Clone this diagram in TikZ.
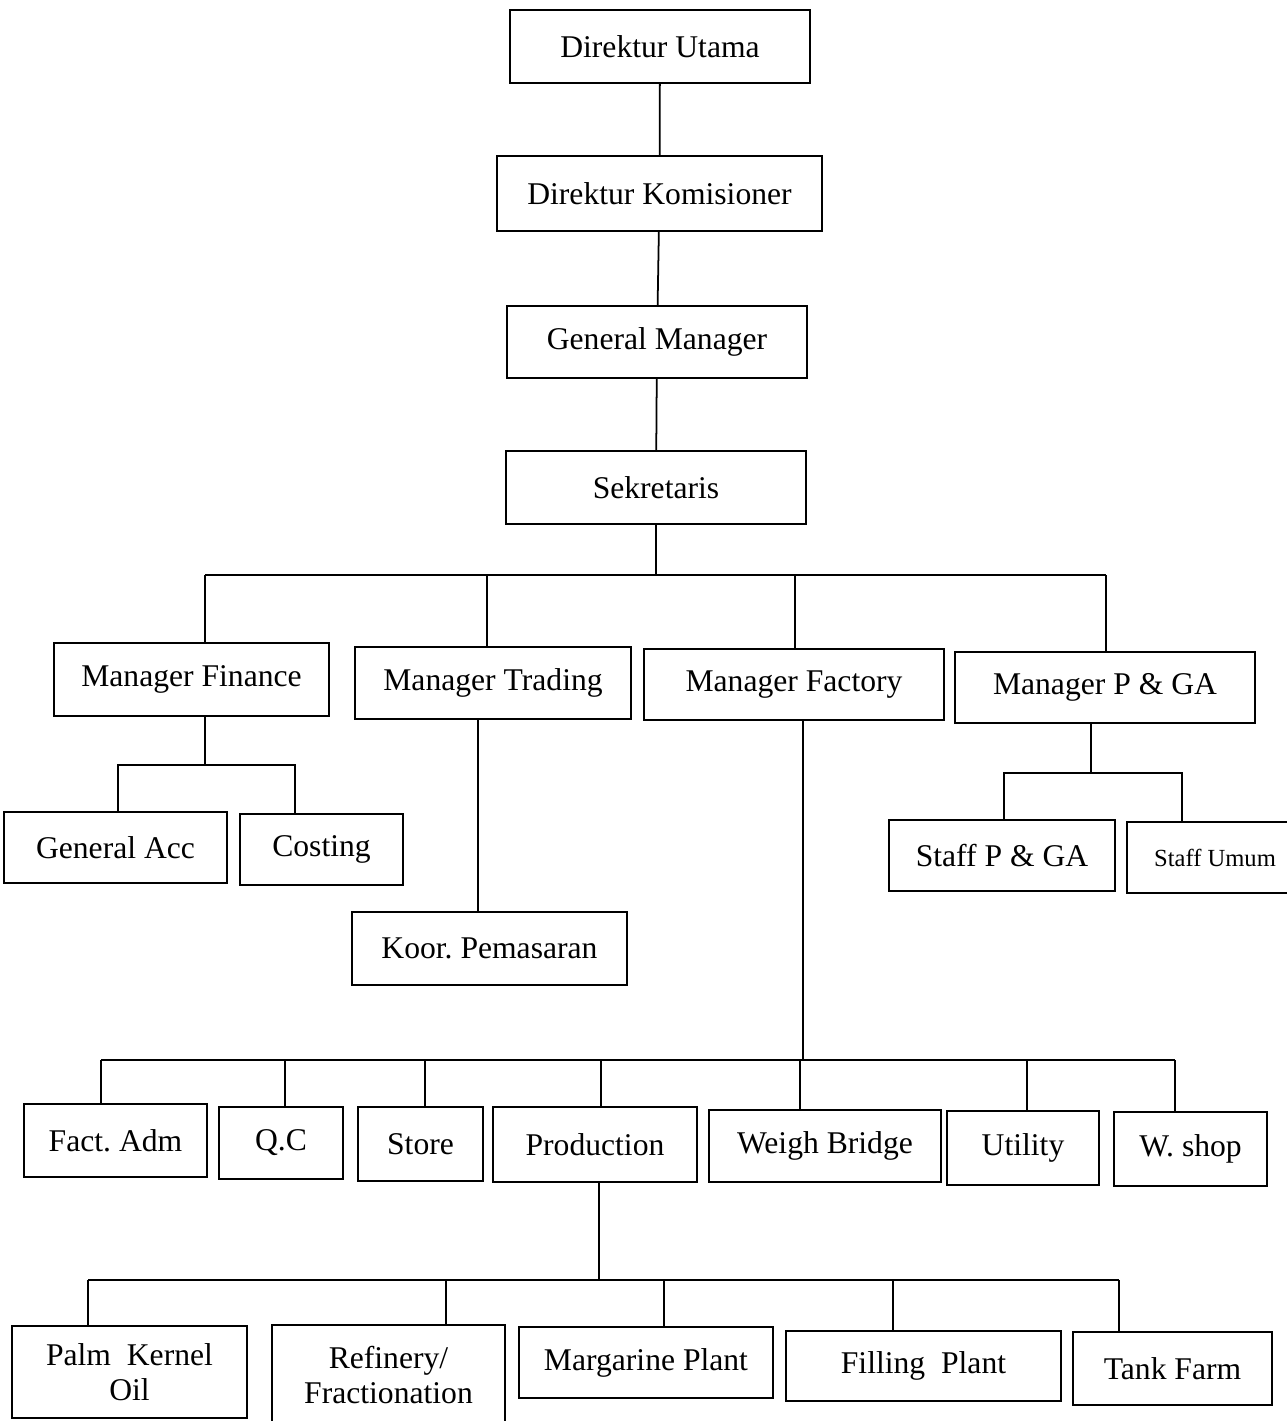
\documentclass[tikz,border=0pt]{standalone}
\usepackage{fontspec}
\setmainfont{Liberation Serif}
\frenchspacing

\begin{document}
\begin{tikzpicture}[x=0.02cm,y=-0.02cm,line width=1pt,
 blk/.style={draw,inner sep=0pt,minimum height=1.45cm,align=center,font=\fontsize{18}{20}\selectfont},
 sml/.style={blk,font=\fontsize{14}{17}\selectfont}]
\useasboundingbox (0,0) rectangle (1286,1421);
\fill[white] (0,0) rectangle (1286,1421);
% top of the chart
\node[blk,minimum width=6cm] (du) at (660,46.5) {Direktur Utama};
\node[blk,minimum width=6.5cm,minimum height=1.5cm] (dk) at (659.5,193.5) {Direktur Komisioner};
\node[blk,minimum width=6cm] (gm) at (657,342) {General Manager};
\node[blk,minimum width=6cm] (sk) at (656,487.5) {Sekretaris};
% managers
\node[blk,minimum width=5.5cm] (mfin) at (191.5,679.5) {Manager Finance};
\node[blk,minimum width=5.52cm] (mtrd) at (493,683) {Manager Trading};
\node[blk,minimum width=6cm,minimum height=1.42cm] (mfac) at (794,684.5) {Manager Factory};
\node[blk,minimum width=6cm,minimum height=1.42cm] (mpga) at (1105,687.5) {Manager P \& GA};
% staff
\node[blk,minimum width=4.46cm,minimum height=1.42cm] (gacc) at (115.5,847.5) {General Acc};
\node[blk,minimum width=3.26cm,minimum height=1.42cm] (cost) at (321.5,849.5) {Costing};
\node[blk,minimum width=5.5cm] (koor) at (489.5,948.5) {Koor. Pemasaran};
\node[blk,minimum width=4.52cm,minimum height=1.42cm] (spga) at (1002,855.5) {Staff P \& GA};
\node[sml,minimum width=3.52cm,minimum height=1.42cm] (sumum) at (1215,857.5) {Staff Umum};
% factory sections
\node[blk,minimum width=3.66cm] (fadm) at (115.5,1140.5) {Fact. Adm};
\node[blk,minimum width=2.48cm] (qc) at (281,1143) {Q.C};
\node[blk,minimum width=2.5cm,minimum height=1.48cm] (store) at (420.5,1144) {Store};
\node[blk,minimum width=4.08cm,minimum height=1.5cm] (prod) at (595,1144.5) {Production};
\node[blk,minimum width=4.64cm] (wb) at (825,1146) {Weigh Bridge};
\node[blk,minimum width=3.04cm,minimum height=1.48cm] (util) at (1023,1148) {Utility};
\node[blk,minimum width=3.06cm,minimum height=1.48cm] (wshop) at (1190.5,1149) {W. shop};
% plants
\node[blk,minimum width=4.7cm,minimum height=1.84cm] (pko) at (129.5,1372) {Palm\ \ Kernel\\Oil};
\node[blk,minimum width=4.66cm,minimum height=2cm] (ref) at (388.5,1375) {Refinery/\\Fractionation};
\node[blk,minimum width=5.08cm,minimum height=1.42cm] (marg) at (646,1362.5) {Margarine Plant};
\node[blk,minimum width=5.5cm,minimum height=1.4cm] (fill) at (923.5,1366) {Filling\ \ Plant};
\node[blk,minimum width=3.98cm] (tank) at (1172.5,1368.5) {Tank Farm};
% lines
\draw (du) -- (dk) -- (gm) -- (sk);
\draw (sk.south) -- (sk.south |- 0,575);
\draw (205,575) -- (1106,575);
\foreach \x/\n in {205/mfin,487/mtrd,795/mfac,1106/mpga}
  \draw (\x,575) -- (\n.north -| \x,0);
\draw (mfin.south -| 205,0) -- (205,765);
\draw (gacc.north -| 118,0) |- (295,765) -- (cost.north -| 295,0);
\draw (mtrd.south -| 478,0) -- (koor.north -| 478,0);
\draw (mpga.south -| 1091,0) -- (1091,773);
\draw (spga.north -| 1004,0) |- (1182,773) -- (sumum.north -| 1182,0);
\draw (mfac.south -| 803,0) -- (803,1060);
\draw (101,1060) -- (1175,1060);
\foreach \x/\n in {101/fadm,285/qc,425/store,601/prod,800/wb,1027/util,1175/wshop}
  \draw (\x,1060) -- (\n.north -| \x,0);
\draw (prod.south -| 599,0) -- (599,1280);
\draw (88,1280) -- (1119,1280);
\foreach \x/\n in {88/pko,446/ref,664/marg,893/fill,1119/tank}
  \draw (\x,1280) -- (\n.north -| \x,0);
\end{tikzpicture}
\end{document}
